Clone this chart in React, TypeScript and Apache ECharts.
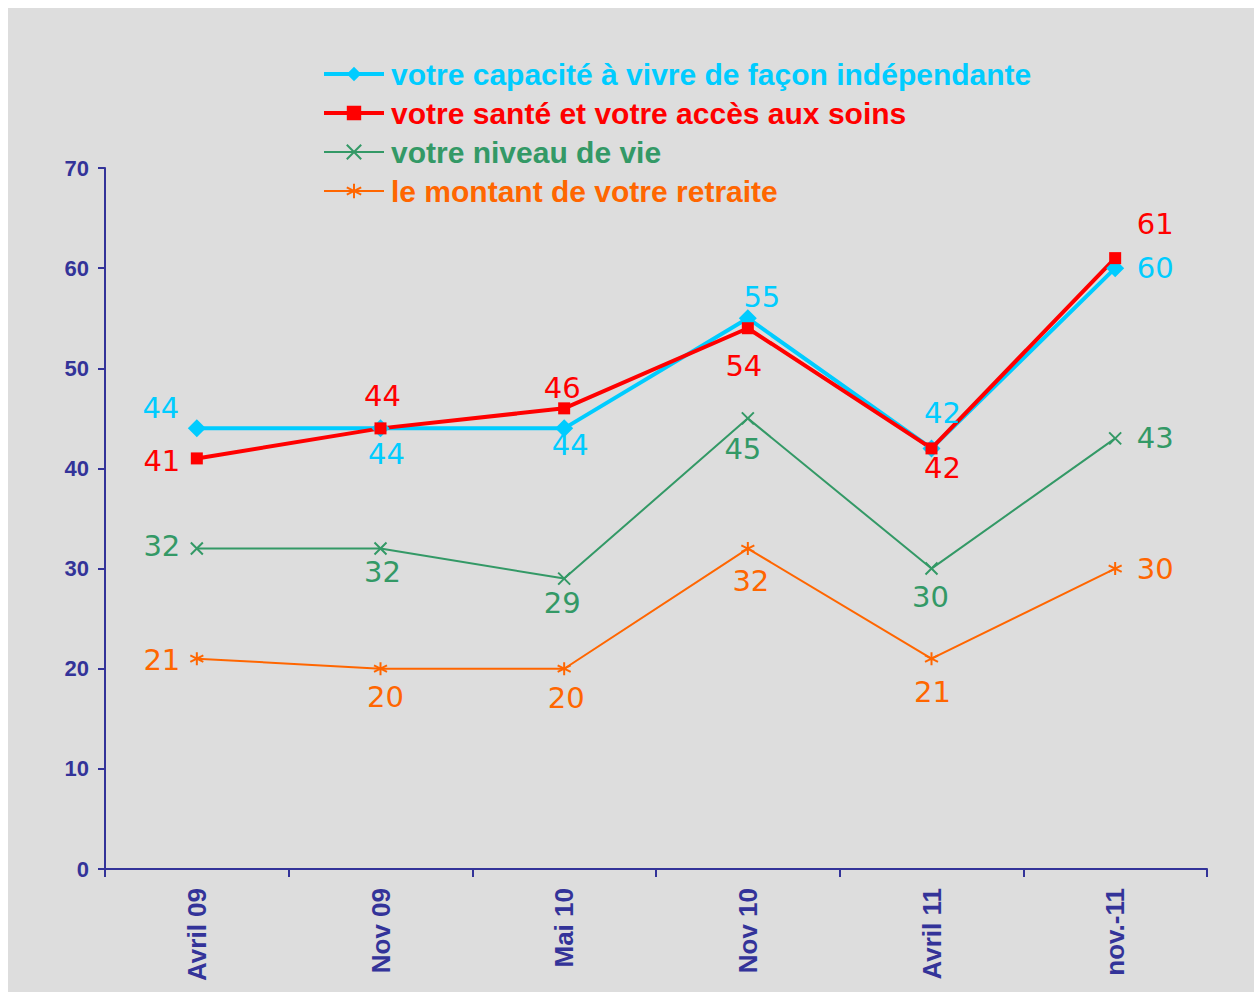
import React, { useEffect, useRef } from "react";
import * as echarts from "echarts";

const categories = ["Avril 09", "Nov 09", "Mai 10", "Nov 10", "Avril 11", "nov.-11"];
const seriesNames = [
  "votre capacité à vivre de façon indépendante",
  "votre santé et votre accès aux soins",
  "votre niveau de vie",
  "le montant de votre retraite",
];
const capacite = [44, 44, 44, 55, 42, 60];
const sante = [41, 44, 46, 54, 42, 61];
const niveauVie = [32, 32, 29, 45, 30, 43];
const retraite = [21, 20, 20, 32, 21, 30];

// label placement (pixel offsets from each point)
const capaciteLabelOffsets = [[-36, -20], [6, 26], [6, 17], [14, -21], [11, -35], [40, 0]];
const santeLabelOffsets = [[-35, 3], [2, -32], [-2, -20], [-4, 38], [11, 20], [40, -34]];
const niveauVieLabelOffsets = [[-35, -3], [2, 23], [-2, 24], [-5, 31], [-1, 28], [40, 0]];
const retraiteLabelOffsets = [[-35, 1], [5, 28], [2, 29], [3, 32], [1, 33], [40, 0]];

const COLORS = ["#00CCFF", "#FF0000", "#339966", "#FF6600"];
const LINE_WIDTHS = [4, 4, 2, 2];
const AXIS = "#333399";

export default function App() {
  const ref = useRef<HTMLDivElement>(null);
  useEffect(() => {
    if (!ref.current) return;
    const chart = echarts.init(ref.current, null, { renderer: "svg" });
    const mk = (
      name: string,
      values: number[],
      offsets: number[][],
      color: string,
      symbol: string,
      symbolSize: number,
      lineWidth: number,
      stroked: boolean
    ) => ({
      name,
      type: "line",
      data: values.map((v, i) => ({ value: v, label: { offset: offsets[i] } })),
      symbol,
      symbolSize,
      showAllSymbol: true,
      lineStyle: { color, width: lineWidth },
      itemStyle: stroked
        ? { color, borderColor: color, borderWidth: 2 }
        : { color },
      label: {
        show: true,
        position: "inside",
        color,
        fontFamily: "DejaVu Sans",
        fontSize: 29,
        fontWeight: "normal",
      },
      emphasis: { disabled: true },
      z: 2,
    });
    chart.setOption({
      animation: false,
      backgroundColor: "#dddddd",
      legend: {
        orient: "vertical",
        left: 309,
        top: 46,
        itemWidth: 60,
        itemHeight: 18,
        itemGap: 9,
        textStyle: {
          fontFamily: "Liberation Sans, Arial, sans-serif",
          fontWeight: "bold",
          fontSize: 30,
          padding: [0, 0, 0, 2],
        },
        data: seriesNames.map((n, i) => ({
          name: n,
          textStyle: { color: COLORS[i] },
          lineStyle: { width: LINE_WIDTHS[i], color: COLORS[i] },
        })),
        selectedMode: false,
      },
      grid: { left: 97, right: 47, top: 160, bottom: 123, containLabel: false },
      xAxis: {
        type: "category",
        data: categories,
        boundaryGap: true,
        axisLine: { show: true, lineStyle: { color: AXIS, width: 2 } },
        axisTick: { show: true, length: 8, lineStyle: { color: AXIS, width: 2 } },
        axisLabel: {
          rotate: 90,
          margin: 19,
          color: AXIS,
          fontFamily: "Liberation Sans, Arial, sans-serif",
          fontWeight: "bold",
          fontSize: 26,
        },
        splitLine: { show: false },
      },
      yAxis: {
        type: "value",
        min: 0,
        max: 70,
        interval: 10,
        axisLine: { show: true, lineStyle: { color: AXIS, width: 2 } },
        axisTick: { show: true, length: 7, lineStyle: { color: AXIS, width: 2 } },
        axisLabel: {
          margin: 16,
          color: AXIS,
          fontFamily: "Liberation Sans, Arial, sans-serif",
          fontWeight: "bold",
          fontSize: 22,
        },
        splitLine: { show: false },
      },
      series: [
        mk(seriesNames[0], capacite, capaciteLabelOffsets, COLORS[0], "diamond", 18, LINE_WIDTHS[0], false),
        mk(seriesNames[1], sante, santeLabelOffsets, COLORS[1], "rect", 12, LINE_WIDTHS[1], false),
        mk(seriesNames[2], niveauVie, niveauVieLabelOffsets, COLORS[2], "path://M0,0L10,10M10,0L0,10", 12, LINE_WIDTHS[2], true),
        mk(seriesNames[3], retraite, retraiteLabelOffsets, COLORS[3], "path://M5,0L5,10M0.8,2.5L9.2,7.5M9.2,2.5L0.8,7.5", 13, LINE_WIDTHS[3], true),
      ],
    });
    return () => chart.dispose();
  }, []);
  return (
    <div
      ref={ref}
      style={{ position: "fixed", left: 8, top: 8, width: 1246, height: 984 }}
    />
  );
}
